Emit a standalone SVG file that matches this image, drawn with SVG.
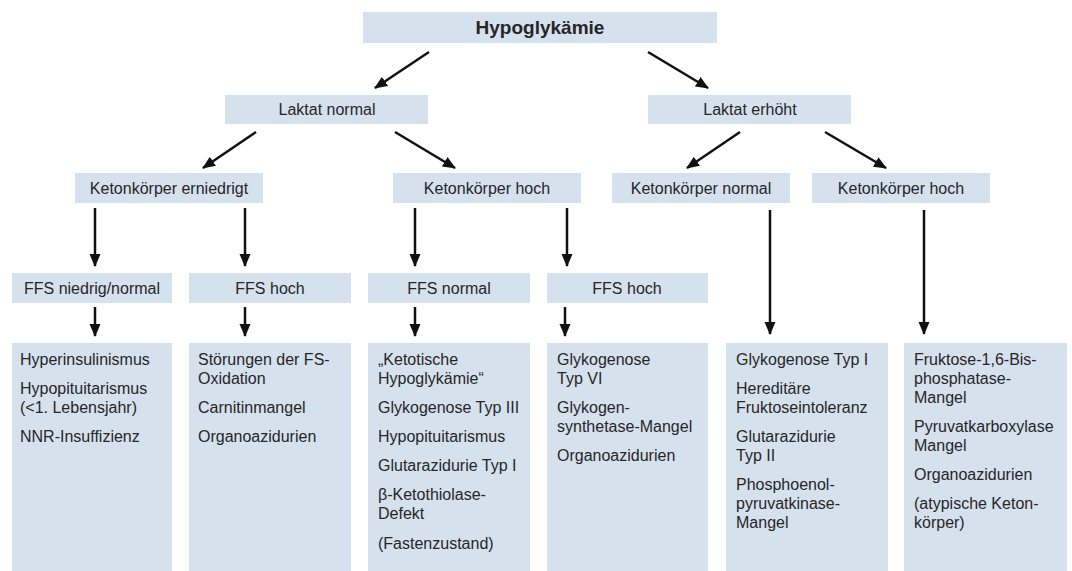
<svg xmlns="http://www.w3.org/2000/svg" width="1072" height="571" viewBox="0 0 1072 571">
<defs>
<style>
.box{fill:#d6e1ee;}
.t{font-family:"Liberation Sans",Arial,sans-serif;font-size:16px;fill:#262626;}
.c{text-anchor:middle;}
.title{font-weight:bold;font-size:19px;}
.con line{stroke:#111;stroke-width:2.5;marker-end:url(#ah);}
</style>
<marker id="ah" markerUnits="userSpaceOnUse" markerWidth="13" markerHeight="13" viewBox="0 0 13 13" refX="12" refY="6.5" orient="auto">
<path d="M0,1 L13,6.5 L0,12 z" fill="#111"/>
</marker>
</defs>
<rect width="1072" height="571" fill="#ffffff"/>

<g id="n-hypo"><rect class="box" x="363" y="12" width="354" height="31"/><text class="t c title" x="540" y="34">Hypoglykämie</text></g>
<g id="n-laktat-normal"><rect class="box" x="225" y="95" width="203" height="29"/><text class="t c" x="327" y="115">Laktat normal</text></g>
<g id="n-laktat-erhoeht"><rect class="box" x="648" y="95" width="203" height="29"/><text class="t c" x="750" y="115">Laktat erhöht</text></g>

<g id="n-keton-ern"><rect class="box" x="75" y="173" width="188" height="30"/><text class="t c" x="169" y="194">Ketonkörper erniedrigt</text></g>
<g id="n-keton-hoch1"><rect class="box" x="393" y="173" width="188" height="30"/><text class="t c" x="487" y="194">Ketonkörper hoch</text></g>
<g id="n-keton-normal"><rect class="box" x="612" y="173" width="178" height="30"/><text class="t c" x="701" y="194">Ketonkörper normal</text></g>
<g id="n-keton-hoch2"><rect class="box" x="812" y="173" width="178" height="30"/><text class="t c" x="901" y="194">Ketonkörper hoch</text></g>

<g id="n-ffs-niedrig"><rect class="box" x="12" y="273" width="160" height="30"/><text class="t c" x="92" y="294">FFS niedrig/normal</text></g>
<g id="n-ffs-hoch1"><rect class="box" x="189" y="273" width="162" height="30"/><text class="t c" x="270" y="294">FFS hoch</text></g>
<g id="n-ffs-normal"><rect class="box" x="368" y="273" width="162" height="30"/><text class="t c" x="449" y="294">FFS normal</text></g>
<g id="n-ffs-hoch2"><rect class="box" x="547" y="273" width="161" height="30"/><text class="t c" x="627" y="294">FFS hoch</text></g>

<g id="n-list1"><rect class="box" x="12" y="343" width="160" height="228"/>
<text class="t" x="20" y="365">Hyperinsulinismus</text>
<text class="t" x="20" y="394">Hypopituitarismus</text>
<text class="t" x="20" y="413">(&lt;1. Lebensjahr)</text>
<text class="t" x="20" y="442">NNR-Insuffizienz</text></g>

<g id="n-list2"><rect class="box" x="189" y="343" width="162" height="228"/>
<text class="t" x="198" y="365">Störungen der FS-</text>
<text class="t" x="198" y="384">Oxidation</text>
<text class="t" x="198" y="413">Carnitinmangel</text>
<text class="t" x="198" y="442">Organoazidurien</text></g>

<g id="n-list3"><rect class="box" x="368" y="343" width="162" height="228"/>
<text class="t" x="378" y="365">„Ketotische</text>
<text class="t" x="378" y="384">Hypoglykämie“</text>
<text class="t" x="378" y="413">Glykogenose Typ III</text>
<text class="t" x="378" y="442">Hypopituitarismus</text>
<text class="t" x="378" y="471">Glutarazidurie Typ I</text>
<text class="t" x="378" y="500">β-Ketothiolase-</text>
<text class="t" x="378" y="519">Defekt</text>
<text class="t" x="378" y="549">(Fastenzustand)</text></g>

<g id="n-list4"><rect class="box" x="547" y="343" width="161" height="228"/>
<text class="t" x="557" y="365">Glykogenose</text>
<text class="t" x="557" y="384">Typ VI</text>
<text class="t" x="557" y="413">Glykogen-</text>
<text class="t" x="557" y="432">synthetase-Mangel</text>
<text class="t" x="557" y="461">Organoazidurien</text></g>

<g id="n-list5"><rect class="box" x="726" y="343" width="162" height="228"/>
<text class="t" x="736" y="365">Glykogenose Typ I</text>
<text class="t" x="736" y="394">Hereditäre</text>
<text class="t" x="736" y="413">Fruktoseintoleranz</text>
<text class="t" x="736" y="442">Glutarazidurie</text>
<text class="t" x="736" y="461">Typ II</text>
<text class="t" x="736" y="490">Phosphoenol-</text>
<text class="t" x="736" y="509">pyruvatkinase-</text>
<text class="t" x="736" y="528">Mangel</text></g>

<g id="n-list6"><rect class="box" x="904" y="343" width="163" height="228"/>
<text class="t" x="914" y="365">Fruktose-1,6-Bis-</text>
<text class="t" x="914" y="384">phosphatase-</text>
<text class="t" x="914" y="403">Mangel</text>
<text class="t" x="914" y="432">Pyruvatkarboxylase</text>
<text class="t" x="914" y="451">Mangel</text>
<text class="t" x="914" y="480">Organoazidurien</text>
<text class="t" x="914" y="509">(atypische Keton-</text>
<text class="t" x="914" y="528">körper)</text></g>

<g id="connectors" class="con">
<line x1="429" y1="52" x2="375" y2="88"/>
<line x1="648" y1="52" x2="708" y2="88"/>
<line x1="256" y1="132" x2="203" y2="168"/>
<line x1="395" y1="132" x2="455" y2="168"/>
<line x1="740" y1="132" x2="687" y2="168"/>
<line x1="825" y1="132" x2="886" y2="168"/>
<line x1="95" y1="208" x2="95" y2="266"/>
<line x1="245" y1="208" x2="245" y2="266"/>
<line x1="415" y1="208" x2="415" y2="266"/>
<line x1="567" y1="208" x2="567" y2="266"/>
<line x1="95" y1="307" x2="95" y2="336"/>
<line x1="245" y1="307" x2="245" y2="336"/>
<line x1="415" y1="307" x2="415" y2="336"/>
<line x1="565" y1="307" x2="565" y2="336"/>
<line x1="770" y1="210" x2="770" y2="334"/>
<line x1="924" y1="210" x2="924" y2="334"/>
</g>
</svg>
